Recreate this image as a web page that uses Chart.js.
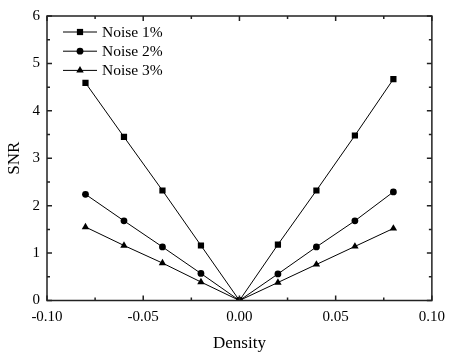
<!DOCTYPE html>
<html>
<head>
<meta charset="utf-8">
<script src="https://cdn.jsdelivr.net/npm/chart.js@4/dist/chart.umd.min.js"></script>
<style>
  html, body { margin: 0; padding: 0; background: #fff; }
  #wrap { width: 453px; height: 353px; }
</style>
</head>
<body>
<div id="wrap"><canvas id="snrChart"></canvas></div>
<script>
// Data
const densities = [-0.08, -0.06, -0.04, -0.02, 0.00, 0.02, 0.04, 0.06, 0.08];
const noise1 = [4.59, 3.45, 2.32, 1.16, 0, 1.18, 2.32, 3.48, 4.67];
const noise2 = [2.24, 1.68, 1.13, 0.57, 0, 0.56, 1.13, 1.68, 2.29];
const noise3 = [1.55, 1.16, 0.79, 0.39, 0, 0.38, 0.76, 1.14, 1.52];
const seriesLabels = ['Noise 1%', 'Noise 2%', 'Noise 3%'];
const xTicks = [-0.10, -0.05, 0.00, 0.05, 0.10];
const yTicks = [0, 1, 2, 3, 4, 5, 6];

const serif = "'Liberation Serif', 'Times New Roman', serif";

function toPoints(values) {
    return densities.map((d, i) => ({ x: d, y: values[i] }));
}

function makeSet(label, values, style, radius) {
    return {
        label: label,
        data: toPoints(values),
        borderColor: '#000',
        backgroundColor: '#000',
        borderWidth: 1,
        pointStyle: style,
        pointRadius: radius,
        pointHoverRadius: radius,
        pointBorderWidth: 0,
        tension: 0
    };
}

// Frame with inward ticks on all four sides
const framePlugin = {
    id: 'frame',
    afterDatasetsDraw(chart) {
        const c = chart.ctx;
        const a = chart.chartArea;
        const xs = chart.scales.x;
        const ys = chart.scales.y;
        c.save();
        c.strokeStyle = '#222';
        c.lineWidth = 1.5;
        c.strokeRect(a.left, a.top, a.right - a.left, a.bottom - a.top);
        c.beginPath();
        // x ticks every 0.025, major every 0.05
        for (let i = 0; i <= 8; i++) {
            const v = -0.1 + i * 0.025;
            const px = xs.getPixelForValue(v);
            const len = i % 2 === 0 ? 5 : 3;
            c.moveTo(px, a.bottom); c.lineTo(px, a.bottom - len);
            c.moveTo(px, a.top); c.lineTo(px, a.top + len);
        }
        // y ticks every 0.5, major every 1
        for (let i = 0; i <= 12; i++) {
            const py = ys.getPixelForValue(i * 0.5);
            const len = i % 2 === 0 ? 5 : 3;
            c.moveTo(a.left, py); c.lineTo(a.left + len, py);
            c.moveTo(a.right, py); c.lineTo(a.right - len, py);
        }
        c.stroke();
        c.restore();
    }
};

// Legend in the top-left corner: short line with marker, then label
const legendPlugin = {
    id: 'lineLegend',
    afterDatasetsDraw(chart) {
        const c = chart.ctx;
        const a = chart.chartArea;
        c.save();
        chart.data.datasets.forEach((ds, i) => {
            const y = a.top + 16 + i * 19.2;
            const x0 = a.left + 16;
            c.strokeStyle = '#000';
            c.lineWidth = 1;
            c.beginPath();
            c.moveTo(x0, y);
            c.lineTo(x0 + 34, y);
            c.stroke();
            c.fillStyle = '#000';
            Chart.helpers.drawPoint(c, { pointStyle: ds.pointStyle, radius: ds.pointRadius, borderWidth: 0, rotation: 0 }, x0 + 17, y);
            c.font = '15.5px ' + serif;
            c.textBaseline = 'middle';
            c.textAlign = 'left';
            c.fillText(ds.label, x0 + 39, y + 1);
        });
        c.restore();
    }
};

const ctx = document.getElementById('snrChart').getContext('2d');

const chart = new Chart(ctx, {
    type: 'line',
    data: {
        datasets: [
            makeSet(seriesLabels[0], noise1, 'rect', 4.4),
            makeSet(seriesLabels[1], noise2, 'circle', 3.4),
            makeSet(seriesLabels[2], noise3, 'triangle', 4.3)
        ]
    },
    options: {
        responsive: true,
        maintainAspectRatio: false,
        animation: false,
        layout: { padding: { top: 13, right: 14, left: 0, bottom: 0 } },
        plugins: {
            legend: { display: false },
            tooltip: { enabled: false }
        },
        scales: {
            x: {
                type: 'linear',
                min: -0.1,
                max: 0.1,
                afterFit(scale) { scale.height = 52.5; },
                afterBuildTicks(scale) { scale.ticks = xTicks.map(v => ({ value: v })); },
                grid: { display: false, drawTicks: false },
                border: { display: false },
                ticks: {
                    color: '#000',
                    padding: 8,
                    maxRotation: 0,
                    font: { family: serif, size: 15 },
                    callback: v => v.toFixed(2)
                },
                title: {
                    display: true,
                    text: 'Density',
                    color: '#000',
                    padding: { top: 0, bottom: -1 },
                    font: { family: serif, size: 17 }
                }
            },
            y: {
                type: 'linear',
                min: 0,
                max: 6,
                afterFit(scale) { scale.width = 47; },
                afterBuildTicks(scale) { scale.ticks = yTicks.map(v => ({ value: v })); },
                grid: { display: false, drawTicks: false },
                border: { display: false },
                ticks: {
                    color: '#000',
                    padding: 7,
                    font: { family: serif, size: 15 }
                },
                title: {
                    display: true,
                    text: 'SNR',
                    color: '#000',
                    padding: 4,
                    font: { family: serif, size: 17 }
                }
            }
        }
    },
    plugins: [framePlugin, legendPlugin]
});
</script>
</body>
</html>
